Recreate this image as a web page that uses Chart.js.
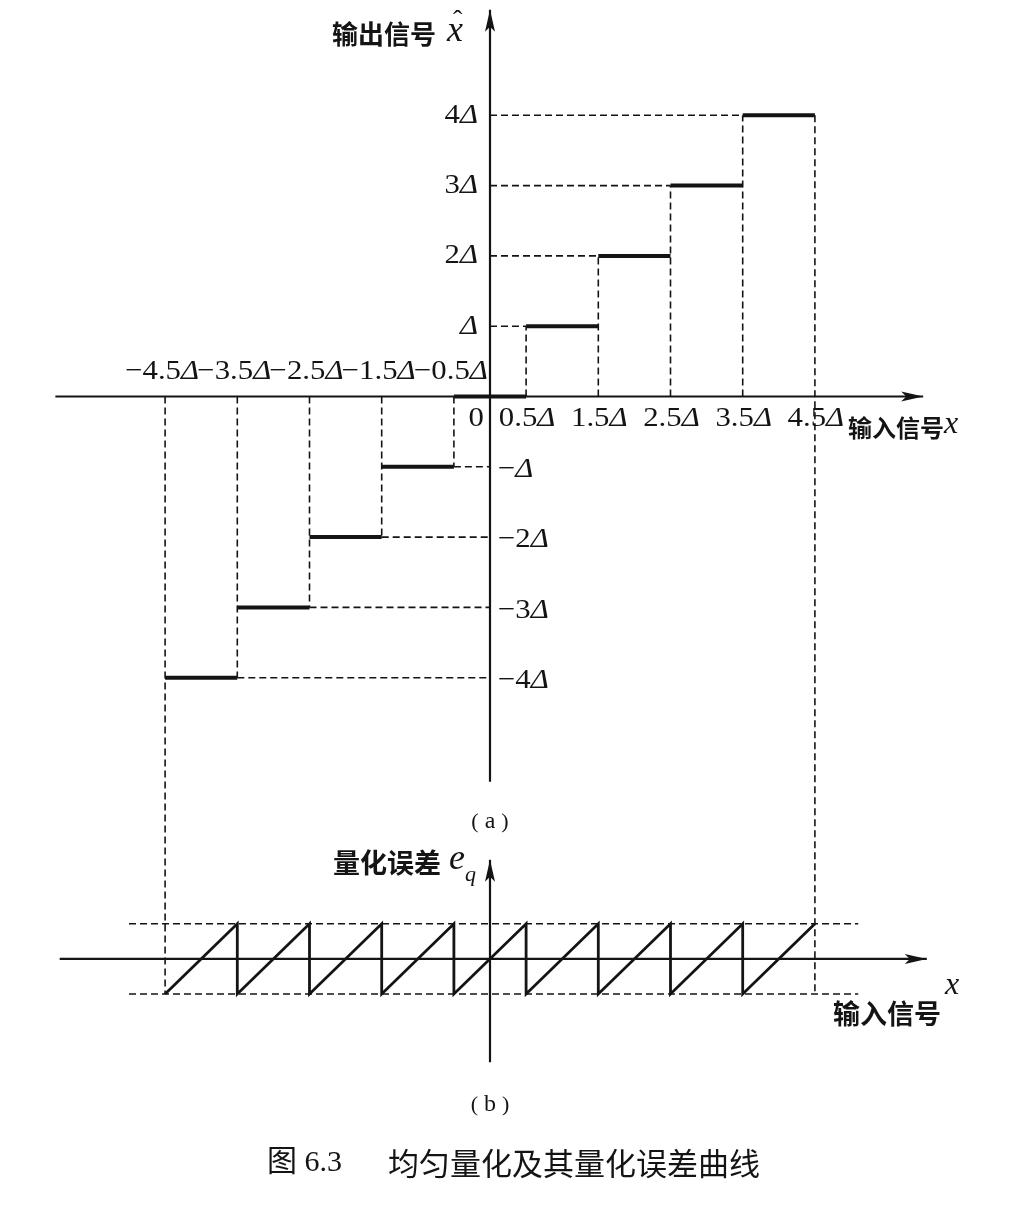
<!DOCTYPE html>
<html>
<head>
<meta charset="utf-8">
<script src="https://cdn.jsdelivr.net/npm/chart.js@4.4.1/dist/chart.umd.min.js"></script>
<style>
  html, body { margin: 0; padding: 0; background: #fff; overflow: hidden; }
  canvas { display: block; }
</style>
</head>
<body>
<canvas id="quantChart" width="1026" height="1206"></canvas>
<script>
// quantizer output levels (in units of delta) and the decision edges between them
const levels = [-4, -3, -2, -1, 0, 1, 2, 3, 4];
const levelLabels = ['−4Δ', '−3Δ', '−2Δ', '−Δ', '', 'Δ', '2Δ', '3Δ', '4Δ'];
const edges = [-4.5, -3.5, -2.5, -1.5, -0.5, 0.5, 1.5, 2.5, 3.5, 4.5];
const edgeLabels = ['−4.5Δ', '−3.5Δ', '−2.5Δ', '−1.5Δ', '−0.5Δ', '0.5Δ', '1.5Δ', '2.5Δ', '3.5Δ', '4.5Δ'];
const errLimits = [-0.5, 0.5];

// layout of the two panels on one shared scale
const panelB = -8;              // zero line of the error plot (b)
const axisA = { x: [-6.02, 6.0], y: [-5.48, 5.5] };
const axisB = { x: [-5.96, 6.05], y: [-1.47, 1.41] };
const errGuide = [-5.0, 5.1];
const X_MIN = -6.7867, X_MAX = 7.4238;
const Y_MIN = -11.5149, Y_MAX = 5.6401;

const INK = '#141414';
const SERIF = '"Liberation Serif", "DejaVu Serif", serif';
const CJK = '"Noto Sans CJK SC"';
const NUM_STRETCH = 1.1; // the scanned digits are a little wider than Liberation Serif

function segs(list) {
  // list of [[x1,y1],[x2,y2]] -> point data with breaks
  const out = [];
  list.forEach((s) => {
    out.push({ x: s[0][0], y: s[0][1] });
    out.push({ x: s[1][0], y: s[1][1] });
    out.push({ x: s[1][0], y: null });
  });
  return out;
}

function line(data, width, dash, extra) {
  return Object.assign({
    data: data,
    showLine: true,
    borderColor: INK,
    backgroundColor: INK,
    borderWidth: width,
    borderDash: dash || [],
    pointRadius: 0,
    spanGaps: false,
    tension: 0,
    borderCapStyle: 'butt',
  }, extra || {});
}

// dashed guides of panel (a)
const guideSegs = [];
levels.forEach((k, i) => {
  if (k > 0) {
    guideSegs.push([[0, k], [edges[i], k]]);
    guideSegs.push([[edges[i], 0], [edges[i], k]]);
  } else if (k < 0) {
    guideSegs.push([[edges[i + 1], k], [0, k]]);
    guideSegs.push([[edges[i + 1], 0], [edges[i + 1], k]]);
  }
});
// long guides running down into panel (b)
guideSegs.push([[edges[edges.length - 1], levels[levels.length - 1]], [edges[edges.length - 1], panelB + errLimits[0]]]);
guideSegs.push([[edges[0], 0], [edges[0], panelB + errLimits[0]]]);
// error bounds in panel (b)
errLimits.forEach((e) => {
  guideSegs.push([[errGuide[0], panelB + e], [errGuide[1], panelB + e]]);
});

// staircase
const stepSegs = levels.map((k, i) => [[edges[i], k], [edges[i + 1], k]]);

// sawtooth error e = x - Q(x)
const sawData = [];
levels.forEach((k, i) => {
  sawData.push({ x: edges[i], y: panelB + edges[i] - k });
  sawData.push({ x: edges[i + 1], y: panelB + edges[i + 1] - k });
});

const datasets = [
  line(segs(guideSegs), 1.6, [7, 4]),
  line([{ x: axisA.x[0], y: 0 }, { x: axisA.x[1], y: 0 }], 2.2, null, { arrow: true }),
  line([{ x: 0, y: axisA.y[0] }, { x: 0, y: axisA.y[1] }], 2.2, null, { arrow: true }),
  line([{ x: axisB.x[0], y: panelB }, { x: axisB.x[1], y: panelB }], 2.2, null, { arrow: true }),
  line([{ x: 0, y: panelB + axisB.y[0] }, { x: 0, y: panelB + axisB.y[1] }], 2.2, null, { arrow: true }),
  line(segs(stepSegs), 4),
  line(sawData, 2.8, null, { borderJoinStyle: 'miter' }),
];

const arrowPlugin = {
  id: 'arrows',
  afterDatasetsDraw(chart) {
    const ctx = chart.ctx;
    chart.data.datasets.forEach((ds, i) => {
      if (!ds.arrow) return;
      const pts = chart.getDatasetMeta(i).data;
      const a = pts[pts.length - 2], b = pts[pts.length - 1];
      const ang = Math.atan2(b.y - a.y, b.x - a.x);
      const len = 22, half = 5, notch = 5;
      ctx.save();
      ctx.translate(b.x, b.y);
      ctx.rotate(ang);
      ctx.fillStyle = INK;
      ctx.beginPath();
      ctx.moveTo(0, 0);
      ctx.lineTo(-len, -half);
      ctx.lineTo(-len + notch, 0);
      ctx.lineTo(-len, half);
      ctx.closePath();
      ctx.fill();
      ctx.restore();
    });
  },
};

function drawParts(ctx, parts, x, y, align, stretch) {
  const s = stretch || 1;
  let total = 0;
  parts.forEach((p) => { ctx.font = p.f; p.w = ctx.measureText(p.t).width; total += p.w + (p.gap || 0); });
  let start = x;
  if (align === 'center') start = x - total * s / 2;
  if (align === 'right') start = x - total * s;
  ctx.save();
  ctx.translate(start, y);
  ctx.scale(s, 1);
  let cx = 0;
  parts.forEach((p) => {
    ctx.font = p.f;
    ctx.fillText(p.t, cx, p.dy || 0);
    cx += p.w + (p.gap || 0);
  });
  ctx.restore();
}

function deltaParts(label, size) {
  const parts = [];
  const idx = label.indexOf('Δ');
  const head = idx >= 0 ? label.slice(0, idx) : label;
  if (head) parts.push({ t: head, f: size + 'px ' + SERIF });
  if (idx >= 0) parts.push({ t: 'Δ', f: 'italic ' + size + 'px ' + SERIF });
  return parts;
}

function panelTag(ctx, letter, x, y) {
  drawParts(ctx, [
    { t: '(', f: '22px ' + SERIF, gap: 6 },
    { t: letter, f: '24px ' + SERIF, gap: 6 },
    { t: ')', f: '22px ' + SERIF },
  ], x, y, 'center');
}

const labelPlugin = {
  id: 'labels',
  afterDraw(chart) {
    const ctx = chart.ctx;
    const sx = chart.scales.x, sy = chart.scales.y;
    const x0 = sx.getPixelForValue(0);
    const y0 = sy.getPixelForValue(0);
    const yb = sy.getPixelForValue(panelB);
    const topA = sy.getPixelForValue(axisA.y[1]);
    const topB = sy.getPixelForValue(panelB + axisB.y[1]);
    ctx.save();
    ctx.fillStyle = INK;
    ctx.textBaseline = 'middle';
    ctx.textAlign = 'left';

    // level labels on the vertical axis of (a)
    levels.forEach((k, i) => {
      if (!levelLabels[i]) return;
      const py = sy.getPixelForValue(k);
      if (k > 0) drawParts(ctx, deltaParts(levelLabels[i], 28), x0 - 12, py, 'right', NUM_STRETCH);
      else drawParts(ctx, deltaParts(levelLabels[i], 28), x0 + 8, py + 3, 'left', NUM_STRETCH);
    });

    // edge labels on the horizontal axis of (a)
    edges.forEach((e, i) => {
      const px = sx.getPixelForValue(e);
      if (e < 0) drawParts(ctx, deltaParts(edgeLabels[i], 28), px - 3, y0 - 25, 'center', NUM_STRETCH);
      else drawParts(ctx, deltaParts(edgeLabels[i], 28), px + 1, y0 + 22, 'center', NUM_STRETCH);
    });
    drawParts(ctx, [{ t: '0', f: '28px ' + SERIF }], x0 - 6, y0 + 22, 'right', NUM_STRETCH);

    // axis titles of (a)
    drawParts(ctx, [{ t: '输出信号', f: 'bold 26px ' + CJK }], x0 - 158, topA + 24, 'left');
    ctx.font = 'italic 36px ' + SERIF;
    ctx.fillText('x', x0 - 43, topA + 22);
    ctx.font = '28px ' + SERIF;
    ctx.fillText('ˆ', x0 - 37, topA + 12);
    drawParts(ctx, [
      { t: '输入信号', f: 'bold 24px ' + CJK },
      { t: 'x', f: 'italic 32px ' + SERIF, dy: -3 },
    ], 848, y0 + 31, 'left');

    // panel labels
    panelTag(ctx, 'a', x0, 822);
    panelTag(ctx, 'b', x0, 1105);

    // axis titles of (b)
    drawParts(ctx, [
      { t: '量化误差', f: 'bold 27px ' + CJK, gap: 8 },
      { t: 'e', f: 'italic 36px ' + SERIF, dy: -3 },
      { t: 'q', f: 'italic 22px ' + SERIF, dy: 12 },
    ], x0 - 157, topB + 3, 'left');
    ctx.font = 'italic 32px ' + SERIF;
    ctx.fillText('x', 945, yb + 27);
    drawParts(ctx, [{ t: '输入信号', f: 'bold 27px ' + CJK }], 833, yb + 55, 'left');

    // caption
    drawParts(ctx, [{ t: '图 6.3', f: '30px ' + SERIF + ', ' + CJK }], 267, 1163, 'left');
    drawParts(ctx, [{ t: '均匀量化及其量化误差曲线', f: '31px ' + CJK }], 388, 1163, 'left');
    ctx.restore();
  },
};

new Chart(document.getElementById('quantChart'), {
  type: 'scatter',
  data: { datasets: datasets },
  options: {
    responsive: false,
    animation: false,
    events: [],
    layout: { padding: 0 },
    plugins: {
      legend: { display: false },
      tooltip: { enabled: false },
    },
    scales: {
      x: { type: 'linear', display: false, min: X_MIN, max: X_MAX },
      y: { type: 'linear', display: false, min: Y_MIN, max: Y_MAX },
    },
  },
  plugins: [arrowPlugin, labelPlugin],
});
</script>
</body>
</html>
